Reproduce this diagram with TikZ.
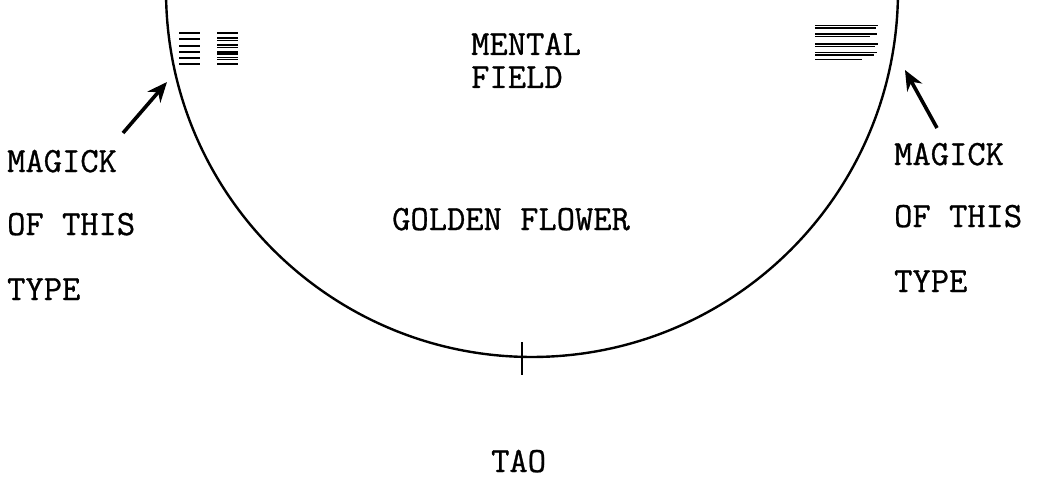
\documentclass[tikz,border=0pt]{standalone}
\usepackage{fontspec}
\newfontfamily\tw[FakeBold=0.8]{Latin Modern Mono}
\usetikzlibrary{arrows.meta}
\tikzset{
  lbl/.style={anchor=base west, inner sep=0pt, font=\tw\fontsize{35.5}{40}\selectfont},
  arcline/.style={line width=2.4pt},
  hatch/.style={line width=1.8pt},
  pointer/.style={line width=3.6pt, -{Stealth[length=20pt,width=17pt]}},
}
\begin{document}
\begin{tikzpicture}[x=1pt,y=-1pt]
\useasboundingbox (0,0) rectangle (1037,487);
\clip (0,0) rectangle (1037,487);
% arc
\coordinate (ctr) at (532,-9);
\draw[arcline] (ctr) ++(178.59:366) arc[start angle=178.59, end angle=1.41, radius=366];
% tick at bottom
\coordinate (tickT) at (522,342);
\coordinate (tickB) at (522,375);
\draw[line width=2.6pt] (tickT) -- (tickB);
% hatch marks top-left
\foreach \yy in {33,39,46,52,58,64}
  \draw[hatch] (179,\yy) -- (200,\yy);
\foreach \yy in {33,38,40.5,45,47.5,52,54,57.5,59.5,64}
  \draw[line width=1.5pt] (217,\yy) -- (238,\yy);
% hatch marks top-right
\foreach \yy/\xe in {25.5/878,28/876,34/877,36.5/870,44/878,46.5/875,52.5/877,55/874,59.5/862}
  \draw[hatch] (815,\yy) -- (\xe,\yy);
% texts
\node[lbl] (mental) at (471,55) {MENTAL};
\node[lbl] (field) at (471,88) {FIELD};
\node[lbl] (lmagick) at (7,172) {MAGICK};
\node[lbl] (lof) at (7,235) {OF THIS};
\node[lbl] (ltype) at (7,300) {TYPE};
\node[lbl] (rmagick) at (894,165) {MAGICK};
\node[lbl] (rof) at (894,227) {OF THIS};
\node[lbl] (rtype) at (894,292) {TYPE};
\node[lbl] (golden) at (392,230) {GOLDEN FLOWER};
\node[lbl] (tao) at (491,472) {TAO};
% arrows
\coordinate (la0) at (123,133);
\coordinate (la1) at (167,82);
\coordinate (ra0) at (937,128);
\coordinate (ra1) at (905,70);
\draw[pointer] (la0) -- (la1);
\draw[pointer] (ra0) -- (ra1);
\end{tikzpicture}
\end{document}
